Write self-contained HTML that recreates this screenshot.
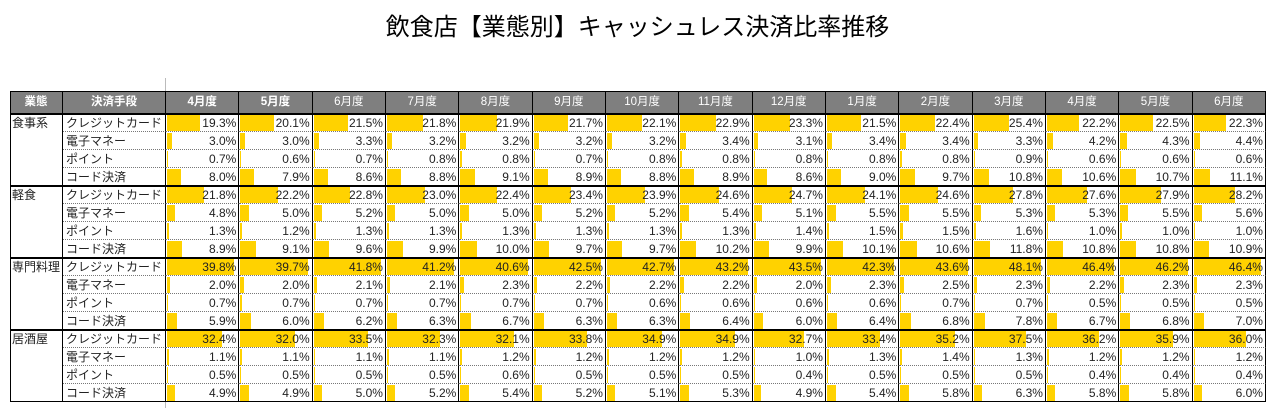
<!DOCTYPE html>
<html><head><meta charset="utf-8">
<style>
body{margin:0;width:1275px;height:413px;background:#fff;position:relative;overflow:hidden;font-family:"Liberation Sans","Noto Sans CJK JP",sans-serif;}
.t{position:absolute;left:0;width:1275px;top:7px;text-align:center;font-size:24px;color:#000;}
.c{position:absolute;box-sizing:border-box;font-size:12px;line-height:18px;white-space:nowrap;color:#222;}
.h{background:#7f7f7f;color:#fff;text-align:center;line-height:22px;border-right:1px solid #000;font-size:11.5px;}
.bar{position:absolute;background:#ffd200;top:1px;height:16px;}
.v{position:absolute;right:2px;top:0;}
</style></head><body>
<div class="t">飲食店【業態別】キャッシュレス決済比率推移</div>
<div id="tbl"></div>
<script>
const months=["4月度","5月度","6月度","7月度","8月度","9月度","10月度","11月度","12月度","1月度","2月度","3月度","4月度","5月度","6月度"];
const categories=["食事系","軽食","専門料理","居酒屋"];
const methods=["クレジットカード","電子マネー","ポイント","コード決済"];
const shokujiCC=[19.3,20.1,21.5,21.8,21.9,21.7,22.1,22.9,23.3,21.5,22.4,25.4,22.2,22.5,22.3];
const shokujiEM=[3.0,3.0,3.3,3.2,3.2,3.2,3.2,3.4,3.1,3.4,3.4,3.3,4.2,4.3,4.4];
const shokujiPT=[0.7,0.6,0.7,0.8,0.8,0.7,0.8,0.8,0.8,0.8,0.8,0.9,0.6,0.6,0.6];
const shokujiCD=[8.0,7.9,8.6,8.8,9.1,8.9,8.8,8.9,8.6,9.0,9.7,10.8,10.6,10.7,11.1];
const keishokuCC=[21.8,22.2,22.8,23.0,22.4,23.4,23.9,24.6,24.7,24.1,24.6,27.8,27.6,27.9,28.2];
const keishokuEM=[4.8,5.0,5.2,5.0,5.0,5.2,5.2,5.4,5.1,5.5,5.5,5.3,5.3,5.5,5.6];
const keishokuPT=[1.3,1.2,1.3,1.3,1.3,1.3,1.3,1.3,1.4,1.5,1.5,1.6,1.0,1.0,1.0];
const keishokuCD=[8.9,9.1,9.6,9.9,10.0,9.7,9.7,10.2,9.9,10.1,10.6,11.8,10.8,10.8,10.9];
const senmonCC=[39.8,39.7,41.8,41.2,40.6,42.5,42.7,43.2,43.5,42.3,43.6,48.1,46.4,46.2,46.4];
const senmonEM=[2.0,2.0,2.1,2.1,2.3,2.2,2.2,2.2,2.0,2.3,2.5,2.3,2.2,2.3,2.3];
const senmonPT=[0.7,0.7,0.7,0.7,0.7,0.7,0.6,0.6,0.6,0.6,0.7,0.7,0.5,0.5,0.5];
const senmonCD=[5.9,6.0,6.2,6.3,6.7,6.3,6.3,6.4,6.0,6.4,6.8,7.8,6.7,6.8,7.0];
const izakayaCC=[32.4,32.0,33.5,32.3,32.1,33.8,34.9,34.9,32.7,33.4,35.2,37.5,36.2,35.9,36.0];
const izakayaEM=[1.1,1.1,1.1,1.1,1.2,1.2,1.2,1.2,1.0,1.3,1.4,1.3,1.2,1.2,1.2];
const izakayaPT=[0.5,0.5,0.5,0.5,0.6,0.5,0.5,0.5,0.4,0.5,0.5,0.5,0.4,0.4,0.4];
const izakayaCD=[4.9,4.9,5.0,5.2,5.4,5.2,5.1,5.3,4.9,5.4,5.8,6.3,5.8,5.8,6.0];
const series=[[shokujiCC,shokujiEM,shokujiPT,shokujiCD],[keishokuCC,keishokuEM,keishokuPT,keishokuCD],[senmonCC,senmonEM,senmonPT,senmonCD],[izakayaCC,izakayaEM,izakayaPT,izakayaCD]];

const root=document.getElementById('tbl');
const X0=10,X1=63,X2=166,CW=73.33,HT=91,HH=23,RH=18,RIGHT=1266;
// per-column max (data bars scaled per month column)
const colMax=months.map((_,i)=>Math.max(...series.flatMap(g=>g.map(s=>s[i]))));
const barScale=(v,i)=>v/colMax[i]*(CW-6);
function div(cls,l,t,w,h,txt){const d=document.createElement('div');d.className=cls;d.style.left=l+'px';d.style.top=t+'px';d.style.width=w+'px';d.style.height=h+'px';if(txt!=null)d.textContent=txt;root.appendChild(d);return d;}
const g=div('c',165,78,1,330);g.style.background='#bbb';


let h=div('c h',X0,HT,X1-X0,HH,'業態');h.style.fontWeight='bold';


h=div('c h',X1,HT,X2-X1,HH,'決済手段');h.style.fontWeight='bold';


months.forEach((m,i)=>{const e=div('c h',X2+i*CW,HT,CW,HH,m);if(i<2)e.style.fontWeight='bold';

});
const hb=div('c',X0,HT,RIGHT-X0,HH);hb.style.border='1px solid #000';
const top0=HT+HH;
categories.forEach((cat,gi)=>{
  const gy=top0+gi*4*RH;
  const ce=div('c',X0,gy,X1-X0,4*RH,cat);ce.style.paddingLeft='2px';ce.style.borderRight='1px solid #000';
  
  
  methods.forEach((m,mi)=>{
    const y=gy+mi*RH;
    const me=div('c',X1,y,X2-X1,RH,m);me.style.paddingLeft='3px';me.style.borderRight='1px solid #000';
    if(mi<3)me.style.borderBottom='1px dotted #777';
    
    
    series[gi][mi].forEach((v,i)=>{
      const cell=div('c',X2+i*CW,y,CW,RH);cell.style.borderRight='1px solid #000';
      if(mi<3)cell.style.borderBottom='1px dotted #777';
      
      
      const b=document.createElement('div');b.className='bar';b.style.left='1px';b.style.width=barScale(v,i)+'px';
      
      
      cell.appendChild(b);
      const t=document.createElement('span');t.className='v';t.textContent=v.toFixed(1)+'%';
      
      
      cell.appendChild(t);
    });
  });
  const gb=div('c',X0,gy,RIGHT-X0,4*RH);gb.style.borderTop='1px solid #000';gb.style.borderBottom='1px solid #000';gb.style.borderLeft='1px solid #000';
});
</script>
</body></html>
